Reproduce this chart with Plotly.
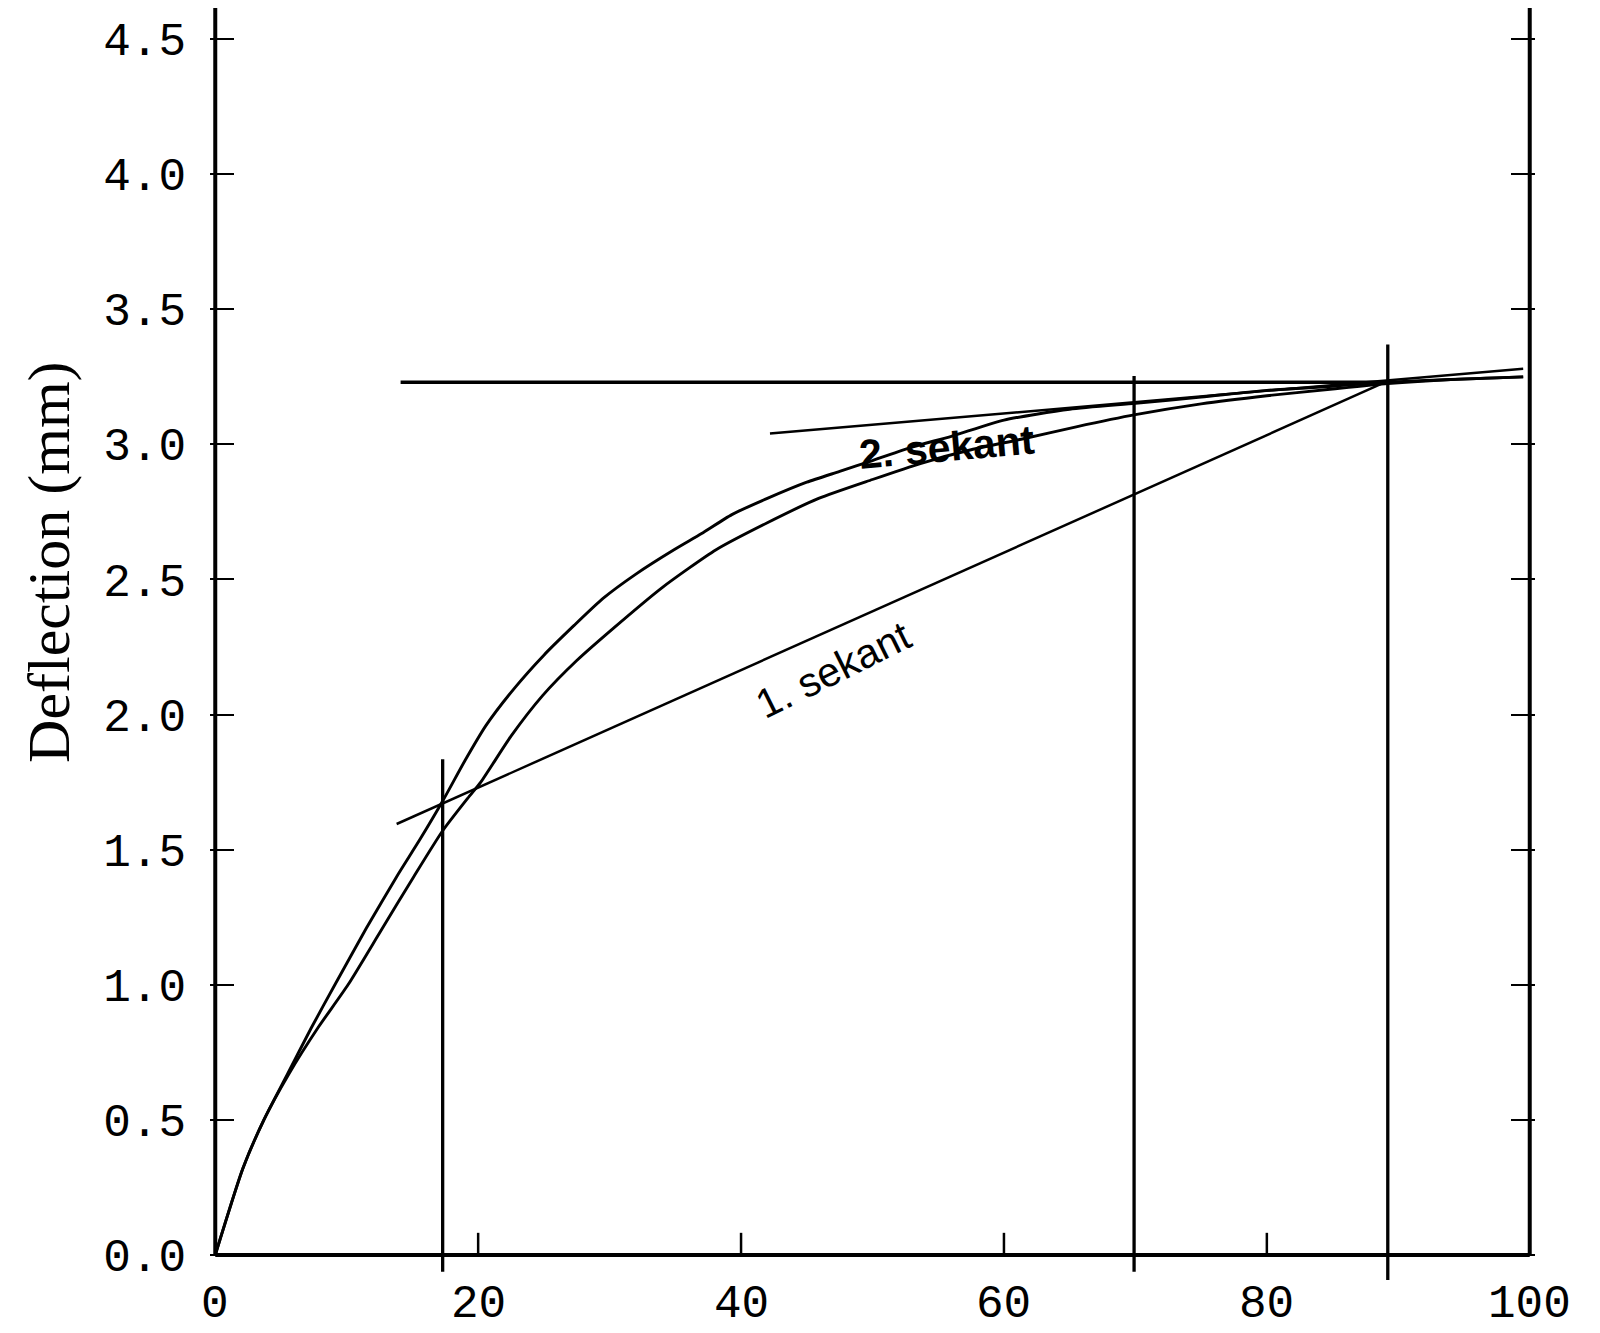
import plotly.graph_objects as go

# axis ticks
X_TICKS = [0, 20, 40, 60, 80, 100]
Y_TICKS = [0.0, 0.5, 1.0, 1.5, 2.0, 2.5, 3.0, 3.5, 4.0, 4.5]
Y_TICK_LABELS = ['0.0', '0.5', '1.0', '1.5', '2.0', '2.5', '3.0', '3.5', '4.0', '4.5']
X_MAX = 100
Y_TOP = 4.615

# first (upper) load curve
curve1_x = [0, 2.1, 3.7, 5.5, 7.3, 9.1, 11.5, 13.8, 15.6, 17.3, 19.0, 20.6, 22.8,
            25.0, 27.3, 29.5, 32.0, 34.9, 37.0, 39.3, 42.0, 45.0, 47.5, 50.0,
            53.0, 56.0, 60.0, 65.0, 70.0, 75.0, 80.0, 85.0, 89.2, 94.0, 99.5]
curve1_y = [0, 0.32, 0.50, 0.67, 0.84, 1.00, 1.21, 1.40, 1.54, 1.68, 1.83, 1.96, 2.10,
            2.22, 2.33, 2.43, 2.52, 2.61, 2.67, 2.74, 2.80, 2.86, 2.90, 2.94,
            2.99, 3.03, 3.09, 3.13, 3.152, 3.175, 3.20, 3.215, 3.23, 3.24, 3.25]

# second (lower) load curve
curve2_x = [0, 2.1, 3.7, 5.6, 7.8, 10.1, 12.6, 15.1, 17.3, 19.2, 20.2, 22.5, 24.9,
            27.5, 30.3, 34.0, 38.1, 42.0, 45.9, 50.0, 53.7, 57.5, 61.4, 65.5,
            70.0, 75.0, 80.0, 85.0, 89.2, 94.0, 99.5]
curve2_y = [0, 0.32, 0.50, 0.67, 0.84, 1.00, 1.20, 1.40, 1.57, 1.69, 1.75, 1.92, 2.07,
            2.20, 2.32, 2.47, 2.61, 2.71, 2.80, 2.87, 2.93, 2.98, 3.02, 3.065,
            3.11, 3.15, 3.18, 3.205, 3.225, 3.24, 3.25]

# secants
secant1_x = [13.8, 89.0]
secant1_y = [1.595, 3.23]
secant2_x = [42.2, 99.5]
secant2_y = [3.04, 3.28]

# horizontal level line
level_x = [14.1, 89.2]
level_y = [3.23, 3.23]

# vertical marker lines
vline_x = [17.3, 69.9, 89.2]
vline_bottom = [-0.062, -0.062, -0.093]
vline_top = [1.835, 3.253, 3.37]

# labels
label_text = ['1. sekant', '2. sekant']
label_x = [47.0, 55.7]
label_y = [2.165, 2.99]
label_angle = [-26.5, -5]
label_weight = ['normal', 'bold']


def segments(xs0, ys0, xs1, ys1):
    """Join several 2-point segments into one trace with gaps."""
    xs, ys = [], []
    for a, b, c, d in zip(xs0, ys0, xs1, ys1):
        xs += [a, c, None]
        ys += [b, d, None]
    return xs, ys


fig = go.Figure()

curve_style = dict(color='black', width=2.9, shape='spline', smoothing=0.6)

fig.add_trace(go.Scatter(x=curve1_x, y=curve1_y, mode='lines', line=curve_style))
fig.add_trace(go.Scatter(x=curve2_x, y=curve2_y, mode='lines', line=curve_style))
fig.add_trace(go.Scatter(x=secant1_x, y=secant1_y, mode='lines', line=dict(color='black', width=2.5)))
fig.add_trace(go.Scatter(x=secant2_x, y=secant2_y, mode='lines', line=dict(color='black', width=2.5)))
fig.add_trace(go.Scatter(x=level_x, y=level_y, mode='lines', line=dict(color='black', width=3.5)))

vx, vy = segments(vline_x, vline_bottom, vline_x, vline_top)
fig.add_trace(go.Scatter(x=vx, y=vy, mode='lines', line=dict(color='black', width=3.3)))

# frame: left, right and bottom axis lines (bottom at y=0)
fx, fy = segments([0, X_MAX, 0], [0, 0, 0], [0, X_MAX, X_MAX], [Y_TOP, Y_TOP, 0])
fig.add_trace(go.Scatter(x=fx, y=fy, mode='lines', line=dict(color='black', width=4)))

# upward x ticks on the bottom axis
inner = X_TICKS[1:-1]
tx, ty = segments(inner, [0] * len(inner), inner, [0.082] * len(inner))
fig.add_trace(go.Scatter(x=tx, y=ty, mode='lines', line=dict(color='black', width=2.5)))

for t, x, y, a, w in zip(label_text, label_x, label_y, label_angle, label_weight):
    fig.add_annotation(x=x, y=y, text=t, textangle=a, showarrow=False,
                       font=dict(family='Liberation Sans', size=41, color='black', weight=w))

tick_font = dict(family='Liberation Mono', size=46, color='black')

# x tick labels sit just under the y=0 axis line
for v in X_TICKS:
    fig.add_annotation(x=v, xref='x', yref='paper', y=-0.018, text=str(v),
                       showarrow=False, xanchor='center', yanchor='middle',
                       font=tick_font)

fig.add_annotation(xref='paper', yref='y', x=-0.1215, y=2.565,
                   xanchor='center', yanchor='middle',
                   text='Deflection (mm)', textangle=-90, showarrow=False,
                   font=dict(family='Liberation Serif', size=60, color='black'))

# the page adds an 8px body margin, so the figure is 8px smaller than the window
fig.update_layout(
    width=1592,
    height=1325,
    margin=dict(l=202, r=65, t=0, b=51),
    paper_bgcolor='white',
    plot_bgcolor='white',
    showlegend=False,
    xaxis=dict(
        range=[-0.4, 100.4],
        showticklabels=False,
        ticks='',
        showline=False,
        showgrid=False,
        zeroline=False,
        automargin=False,
    ),
    yaxis=dict(
        range=[-0.1, Y_TOP],
        tickmode='array',
        tickvals=Y_TICKS,
        ticktext=Y_TICK_LABELS,
        ticks='inside',
        ticklen=24,
        tickwidth=2.2,
        tickcolor='black',
        mirror='ticks',
        showline=False,
        showgrid=False,
        zeroline=False,
        tickfont=tick_font,
        ticklabelstandoff=23,
        automargin=False,
    ),
)

fig.write_html('out.html')
